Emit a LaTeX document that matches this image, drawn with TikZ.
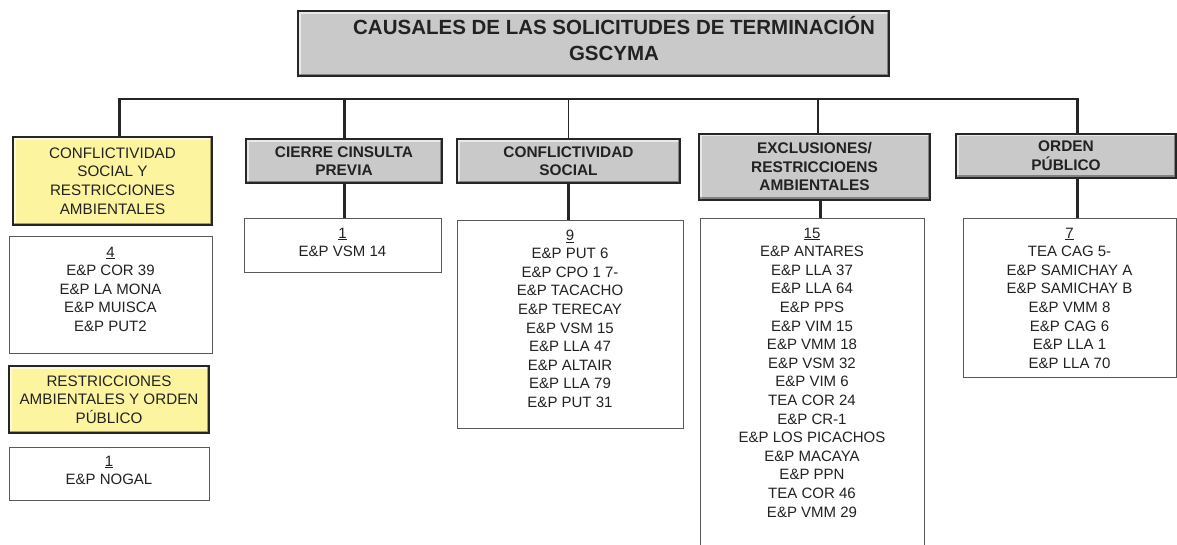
\documentclass[tikz,border=0pt]{standalone}
\usepackage{fontspec}
\setmainfont{Liberation Sans}
\usepackage{xcolor}
\usetikzlibrary{positioning}

\definecolor{boxgray}{RGB}{201,201,201}
\definecolor{boxyellow}{RGB}{252,244,158}
\definecolor{txtdark}{RGB}{34,34,34}
\definecolor{wire}{RGB}{38,38,38}

\tikzset{
	bevel/.style={path picture={
		\draw[white, line width=5pt, opacity=.6] (path picture bounding box.south west) -- (path picture bounding box.north west) -- (path picture bounding box.north east);
		\draw[black, line width=5pt, opacity=.35] (path picture bounding box.south west) -- (path picture bounding box.south east) -- (path picture bounding box.north east);
	}},
	catbox/.style={draw=wire, line width=2pt, fill=boxgray, bevel, align=center, inner sep=0pt,
		text=txtdark, font=\bfseries\fontsize{15.4}{18.6}\selectfont},
	mixbox/.style={catbox, fill=boxyellow, font=\fontsize{15.2}{18.6}\selectfont},
	listbox/.style={draw=black!65, line width=1pt, fill=white, inner sep=0pt},
	listtxt/.style={anchor=north, align=center, inner sep=0pt, text=txtdark, font=\fontsize{15}{18.6}\selectfont},
	wirethin/.style={draw=wire, line width=1.6pt},
	wirethick/.style={draw=wire, line width=3pt},
}

\begin{document}
\begin{tikzpicture}[x=1pt, y=-1pt]
	\useasboundingbox (0,0) rectangle (1177,544);
	% Title and bus:
	\node[catbox, minimum width=591pt, minimum height=65pt] (title) at (593.5,43.5){};
	\node[align=center, inner sep=0pt, text=txtdark, font=\bfseries\fontsize{20.5}{26}\selectfont] (title-txt) at (614,39){CAUSALES DE LAS SOLICITUDES DE TERMINACIÓN\\GSCYMA};
	\coordinate (bus-w) at (119,99);
	\coordinate (bus-e) at (1077,99);
	\draw[wirethin, line width=2pt] ([xshift=-1.5pt]bus-w) -- ([xshift=1.5pt]bus-e);

	% Category boxes:
	\node[mixbox, minimum width=199pt, minimum height=88pt] (conf-amb) at (112.5,181){CONFLICTIVIDAD\\SOCIAL Y\\RESTRICCIONES\\AMBIENTALES};
	\node[mixbox, minimum width=200pt, minimum height=67pt] (amb-ord) at (109,399.5){RESTRICCIONES\\AMBIENTALES Y ORDEN\\PÚBLICO};
	\node[catbox, minimum width=196pt, minimum height=44pt] (cierre) at (344,161){CIERRE CINSULTA\\PREVIA};
	\node[catbox, minimum width=223pt, minimum height=44pt] (conf-soc) at (568.5,161){CONFLICTIVIDAD\\SOCIAL};
	\node[catbox, minimum width=231pt, minimum height=66pt] (excl) at (814.5,166.5){EXCLUSIONES/\\RESTRICCIOENS\\AMBIENTALES};
	\node[catbox, minimum width=220pt, minimum height=44pt] (orden) at (1066,155.5){ORDEN\\PÚBLICO};

	% List boxes:
	\node[listbox, minimum width=203pt, minimum height=117pt] (lst-conf-amb) at (110.5,294.5){};
	\node[listtxt, yshift=-11pt] at (lst-conf-amb.north){\underline{4}\\E\&P COR 39\\E\&P LA MONA\\E\&P MUISCA\\E\&P PUT2};
	\node[listbox, minimum width=200pt, minimum height=53pt] (lst-amb-ord) at (109,473.5){};
	\node[listtxt, yshift=-9pt] at (lst-amb-ord.north){\underline{1}\\E\&P NOGAL};
	\node[listbox, minimum width=197pt, minimum height=54pt] (lst-cierre) at (342.5,245){};
	\node[listtxt, yshift=-10pt] at (lst-cierre.north){\underline{1}\\E\&P VSM 14};
	\node[listbox, minimum width=226pt, minimum height=208pt] (lst-conf-soc) at (570,324){};
	\node[listtxt, yshift=-10pt] at (lst-conf-soc.north){\underline{9}\\E\&P PUT 6\\E\&P CPO 1 7-\\E\&P TACACHO\\E\&P TERECAY\\E\&P VSM 15\\E\&P LLA 47\\E\&P ALTAIR\\E\&P LLA 79\\E\&P PUT 31};
	\node[listbox, minimum width=224pt, minimum height=332pt] (lst-excl) at (812,384){};
	\node[listtxt, yshift=-10pt] at (lst-excl.north){\underline{15}\\E\&P ANTARES\\E\&P LLA 37\\E\&P LLA 64\\E\&P PPS\\E\&P VIM 15\\E\&P VMM 18\\E\&P VSM 32\\E\&P VIM 6\\TEA COR 24\\E\&P CR-1\\E\&P LOS PICACHOS\\E\&P MACAYA\\E\&P PPN\\TEA COR 46\\E\&P VMM 29};
	\node[listbox, minimum width=213pt, minimum height=159pt] (lst-orden) at (1069.5,297.5){};
	\node[listtxt, yshift=-10pt] at (lst-orden.north){\underline{7}\\TEA CAG 5-\\E\&P SAMICHAY A\\E\&P SAMICHAY B\\E\&P VMM 8\\E\&P CAG 6\\E\&P LLA 1\\E\&P LLA 70};

	% Wires:
	\draw[wirethick] (bus-w) -- (bus-w |- conf-amb.north);
	\draw[wirethick] (cierre.north |- bus-w) -- (cierre.north);
	\draw[wirethick] (cierre.south) -- (cierre.south |- lst-cierre.north);
	\draw[wirethin] (conf-soc.north |- bus-w) -- (conf-soc.north);
	\draw[wirethin, line width=2.2pt] (conf-soc.south) -- (conf-soc.south |- lst-conf-soc.north);
	\draw[wirethin] ([xshift=3.5pt]excl.north |- bus-w) -- ([xshift=3.5pt]excl.north);
	\draw[wirethick] ([xshift=5.5pt]excl.south) -- ([xshift=5.5pt]excl.south |- lst-excl.north);
	\draw[wirethick] (bus-e) -- (bus-e |- orden.north);
	\draw[wirethick] (bus-e |- orden.south) -- (bus-e |- lst-orden.north);
\end{tikzpicture}
\end{document}
